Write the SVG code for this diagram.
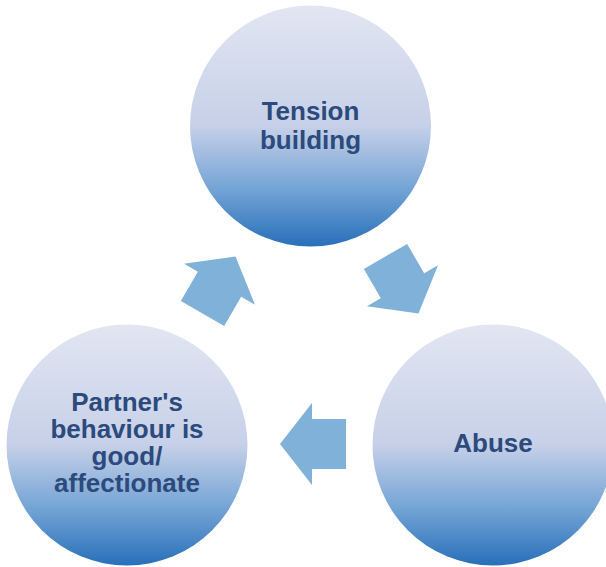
<svg xmlns="http://www.w3.org/2000/svg" width="606" height="567" viewBox="0 0 606 567">
  <defs>
    <linearGradient id="g" x1="0" y1="0" x2="0" y2="1">
      <stop offset="0" stop-color="#e2e6f2"/>
      <stop offset="0.5" stop-color="#c6d0e8"/>
      <stop offset="0.76" stop-color="#74a4d5"/>
      <stop offset="1" stop-color="#2870ba"/>
    </linearGradient>
    <polygon id="arr" points="-33,-25 1,-25 1,-41 33,0 1,41 1,25 -33,25"/>
  </defs>
  <style>
    .node circle { fill: url(#g); }
    .node text { font-family: "Liberation Sans", Arial, sans-serif; font-weight: bold; font-size: 26px; fill: #2c4a7c; text-anchor: middle; }
    .conn use { fill: #80b1d9; }
  </style>
  <rect width="606" height="567" fill="#ffffff"/>
  <g id="connectors" class="conn">
    <use href="#arr" transform="translate(402,285) rotate(60)"/>
    <use href="#arr" transform="translate(313,444) rotate(180)"/>
    <use href="#arr" transform="translate(219,285) rotate(-60)"/>
  </g>
  <g id="tension" class="node">
    <circle cx="310.5" cy="126" r="120.5"/>
    <text x="310.5" y="120">Tension</text>
    <text x="310.5" y="149">building</text>
  </g>
  <g id="abuse" class="node">
    <circle cx="493" cy="445" r="120.5"/>
    <text x="493" y="452">Abuse</text>
  </g>
  <g id="good" class="node">
    <circle cx="127" cy="445" r="120.5"/>
    <text x="127" y="411">Partner's</text>
    <text x="127" y="438">behaviour is</text>
    <text x="127" y="465">good/</text>
    <text x="127" y="492">affectionate</text>
  </g>
</svg>
